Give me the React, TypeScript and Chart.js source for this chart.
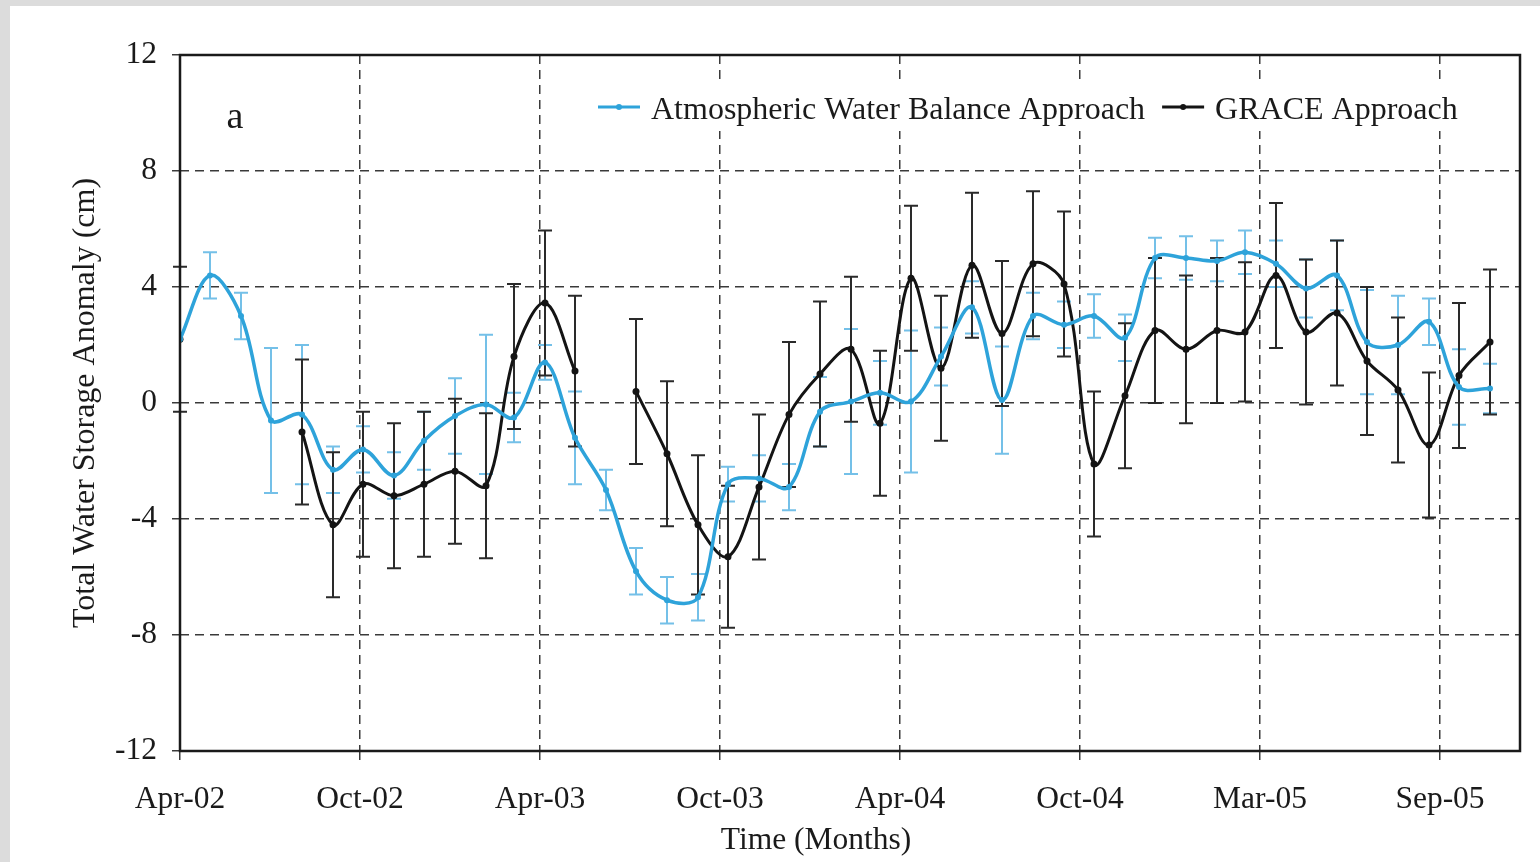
import React, { useEffect, useRef } from 'react';
import { Chart, registerables } from 'chart.js';

Chart.register(...registerables);

const FONT = "'Liberation Serif', 'Times New Roman', serif";

// Monthly time steps (mid-month)
const months = [
  '2002-04', '2002-05', '2002-06', '2002-07', '2002-08', '2002-09', '2002-10', '2002-11', '2002-12',
  '2003-01', '2003-02', '2003-03', '2003-04', '2003-05', '2003-06', '2003-07', '2003-08', '2003-09',
  '2003-10', '2003-11', '2003-12', '2004-01', '2004-02', '2004-03', '2004-04', '2004-05', '2004-06',
  '2004-07', '2004-08', '2004-09', '2004-10', '2004-11', '2004-12', '2005-01', '2005-02', '2005-03',
  '2005-04', '2005-05', '2005-06', '2005-07', '2005-08', '2005-09', '2005-10', '2005-11',
];

// Atmospheric Water Balance Approach (cm)
const awbValues = [
  2.2, 4.4, 3.0, -0.6, -0.4, -2.3, -1.6, -2.5, -1.3, -0.45, -0.05,
  -0.5, 1.4, -1.2, -3.0, -5.8, -6.8, -6.7, -2.8, -2.6, -2.9, -0.3,
  0.05, 0.35, 0.05, 1.6, 3.3, 0.1, 3.0, 2.7, 3.0, 2.25, 5.0,
  5.0, 4.9, 5.2, 4.8, 3.95, 4.4, 2.1, 2.0, 2.8, 0.55, 0.5,
];
const awbErrors = [
  0, 0.8, 0.8, 2.5, 2.4, 0.8, 0.8, 0.8, 1.0, 1.3, 2.4,
  0.85, 0.6, 1.6, 0.7, 0.8, 0.8, 0.8, 0.6, 0.8, 0.8, 1.2,
  2.5, 1.1, 2.45, 1.0, 0.9, 1.85, 0.8, 0.8, 0.75, 0.8, 0.7,
  0.75, 0.7, 0.75, 0.8, 1.0, 1.2, 1.8, 1.7, 0.8, 1.3, 0.85,
];

// GRACE Approach (cm); null = no data
const graceValues = [
  2.2, null, null, null, -1.0, -4.2, -2.8, -3.2, -2.8, -2.35, -2.85,
  1.6, 3.45, 1.1, null, 0.4, -1.75, -4.2, -5.3, -2.9, -0.4, 1.0,
  1.85, -0.7, 4.3, 1.2, 4.75, 2.4, 4.8, 4.1, -2.1, 0.25, 2.5,
  1.85, 2.5, 2.45, 4.4, 2.45, 3.1, 1.45, 0.45, -1.45, 0.95, 2.1,
];
const graceErrors = [
  2.5, 0, 0, 0, 2.5, 2.5, 2.5, 2.5, 2.5, 2.5, 2.5,
  2.5, 2.5, 2.6, 0, 2.5, 2.5, 2.4, 2.45, 2.5, 2.5, 2.5,
  2.5, 2.5, 2.5, 2.5, 2.5, 2.5, 2.5, 2.5, 2.5, 2.5, 2.5,
  2.55, 2.5, 2.4, 2.5, 2.5, 2.5, 2.55, 2.5, 2.5, 2.5, 2.5,
];

// X axis: days since the first month, labels every 180 days
const xTickDays = [0, 180, 360, 540, 720, 900, 1080, 1260];
const xTickLabels = ['Apr-02', 'Oct-02', 'Apr-03', 'Oct-03', 'Apr-04', 'Oct-04', 'Mar-05', 'Sep-05'];
const xMaxDays = 1340;
const yMin = -12;
const yMax = 12;
const yStep = 4;

const seriesLabels = ['Atmospheric Water Balance Approach', 'GRACE Approach'];
const xTitle = 'Time (Months)';
const yTitle = 'Total Water Storage Anomaly (cm)';
const panelLabel = 'a';

const BLUE = '#2ea3da';
const BLUE_ERR = '#74c0e8';
const BLACK = '#141414';
const BLACK_ERR = '#2a2a2a';

const dayOf = (ym: string) => {
  const [y, m] = ym.split('-').map(Number);
  return Math.round((Date.UTC(y, m - 1, 15) - Date.UTC(2002, 3, 15)) / 86400000);
};

const errorBarPlugin = {
  id: 'errorBars',
  beforeDatasetsDraw(chart: any) {
    const { ctx } = chart;
    const yScale = chart.scales.y;
    chart.data.datasets.forEach((ds: any, di: number) => {
      const errs: number[] = ds.errorBars;
      if (!errs) return;
      const meta = chart.getDatasetMeta(di);
      ctx.save();
      ctx.strokeStyle = ds.errorColor;
      ctx.lineWidth = ds.errorWidth;
      meta.data.forEach((pt: any, i: number) => {
        const v = ds.data[i].y;
        const e = errs[i];
        if (v == null || !e || !isFinite(pt.x)) return;
        const x = pt.x;
        const yT = yScale.getPixelForValue(v + e);
        const yB = yScale.getPixelForValue(v - e);
        const c = 7;
        ctx.beginPath();
        ctx.moveTo(x, yT);
        ctx.lineTo(x, yB);
        ctx.moveTo(x - c, yT);
        ctx.lineTo(x + c, yT);
        ctx.moveTo(x - c, yB);
        ctx.lineTo(x + c, yB);
        ctx.stroke();
      });
      ctx.restore();
    });
  },
};

const decorPlugin = {
  id: 'decor',
  afterDraw(chart: any) {
    const { ctx, chartArea: a } = chart;
    ctx.save();
    // legend (white box behind it, as in the source)
    ctx.font = `32px ${FONT}`;
    ctx.textAlign = 'left';
    ctx.textBaseline = 'alphabetic';
    const startX = a.left + 418;
    const lineY = a.top + 52;
    const textY = a.top + 64;
    let total = 0;
    chart.data.datasets.forEach((ds: any) => {
      total += 53 + ctx.measureText(ds.label).width + 17;
    });
    ctx.fillStyle = '#ffffff';
    ctx.fillRect(startX - 6, lineY - 22, total, 46);
    let x = startX;
    chart.data.datasets.forEach((ds: any) => {
      ctx.strokeStyle = ds.borderColor;
      ctx.fillStyle = ds.borderColor;
      ctx.lineWidth = 3;
      ctx.beginPath();
      ctx.moveTo(x, lineY);
      ctx.lineTo(x + 42, lineY);
      ctx.stroke();
      ctx.beginPath();
      ctx.arc(x + 21, lineY, 3, 0, Math.PI * 2);
      ctx.fill();
      ctx.fillStyle = '#1a1a1a';
      ctx.fillText(ds.label, x + 53, textY);
      x += 53 + ctx.measureText(ds.label).width + 17;
    });
    // frame
    ctx.strokeStyle = '#1a1a1a';
    ctx.lineWidth = 2.5;
    ctx.setLineDash([]);
    ctx.strokeRect(a.left, a.top, a.right - a.left, a.bottom - a.top);
    // x title
    ctx.fillStyle = '#1a1a1a';
    ctx.font = `31.5px ${FONT}`;
    ctx.textAlign = 'center';
    ctx.fillText(xTitle, a.left + 636, a.bottom + 98);
    // panel label
    ctx.font = `38px ${FONT}`;
    ctx.fillText(panelLabel, a.left + 55, a.top + 73);
    ctx.restore();
  },
};

export default function App() {
  const ref = useRef<HTMLCanvasElement | null>(null);

  useEffect(() => {
    if (!ref.current) return;
    const xs = months.map(dayOf);
    const chart = new Chart(ref.current, {
      type: 'line',
      data: {
        datasets: [
          {
            label: seriesLabels[0],
            data: xs.map((x, i) => ({ x, y: awbValues[i] })),
            borderColor: BLUE,
            backgroundColor: BLUE,
            borderWidth: 3.5,
            pointRadius: 3,
            pointBorderWidth: 0,
            pointBackgroundColor: BLUE,
            tension: 0.35,
            spanGaps: false,
            errorBars: awbErrors,
            errorColor: BLUE_ERR,
            errorWidth: 2,
          } as any,
          {
            label: seriesLabels[1],
            data: xs.map((x, i) => ({ x, y: graceValues[i] })),
            borderColor: BLACK,
            backgroundColor: BLACK,
            borderWidth: 3,
            pointRadius: 3.5,
            pointBorderWidth: 0,
            pointBackgroundColor: BLACK,
            tension: 0.35,
            spanGaps: false,
            errorBars: graceErrors,
            errorColor: BLACK_ERR,
            errorWidth: 2,
          } as any,
        ],
      },
      options: {
        responsive: false,
        animation: false,
        layout: { padding: { left: 0, top: 49, right: 20, bottom: 0 } },
        plugins: { legend: { display: false }, tooltip: { enabled: false } },
        scales: {
          x: {
            type: 'linear',
            min: 0,
            max: xMaxDays,
            afterBuildTicks: (s: any) => {
              s.ticks = xTickDays.map((v) => ({ value: v }));
            },
            afterFit: (s: any) => {
              s.height = 111;
            },
            ticks: {
              autoSkip: false,
              maxRotation: 0,
              padding: 18,
              color: '#1a1a1a',
              font: { family: FONT, size: 31.5 },
              callback: (v: any) => {
                const i = xTickDays.indexOf(Number(v));
                return i >= 0 ? xTickLabels[i] : '';
              },
            },
            grid: {
              color: '#3a3a3a',
              lineWidth: 1.5,
              tickLength: 12,
              tickColor: '#3a3a3a',
              tickWidth: 1.5,
              tickBorderDash: [9, 6],
            },
            border: { display: false, dash: [9, 6] },
          },
          y: {
            min: yMin,
            max: yMax,
            afterFit: (s: any) => {
              s.width = 170;
            },
            ticks: {
              stepSize: yStep,
              padding: 15,
              color: '#1a1a1a',
              font: { family: FONT, size: 31.5 },
            },
            grid: {
              color: '#3a3a3a',
              lineWidth: 1.5,
              tickLength: 8,
              tickColor: '#3a3a3a',
              tickWidth: 1.5,
              tickBorderDash: [9, 6],
            },
            border: { display: false, dash: [9, 6] },
            title: {
              display: true,
              text: yTitle,
              color: '#1a1a1a',
              font: { family: FONT, size: 32 },
              padding: { top: 56, bottom: 0 },
            },
          },
        },
      },
      plugins: [errorBarPlugin, decorPlugin],
    } as any);
    return () => chart.destroy();
  }, []);

  return (
    <div style={{ position: 'absolute', left: 0, top: 0, width: 1540, height: 862, background: '#dcdcdc' }}>
      <canvas
        ref={ref}
        width={1530}
        height={856}
        style={{ position: 'absolute', left: 10, top: 6, width: 1530, height: 856, background: '#ffffff' }}
      />
    </div>
  );
}
